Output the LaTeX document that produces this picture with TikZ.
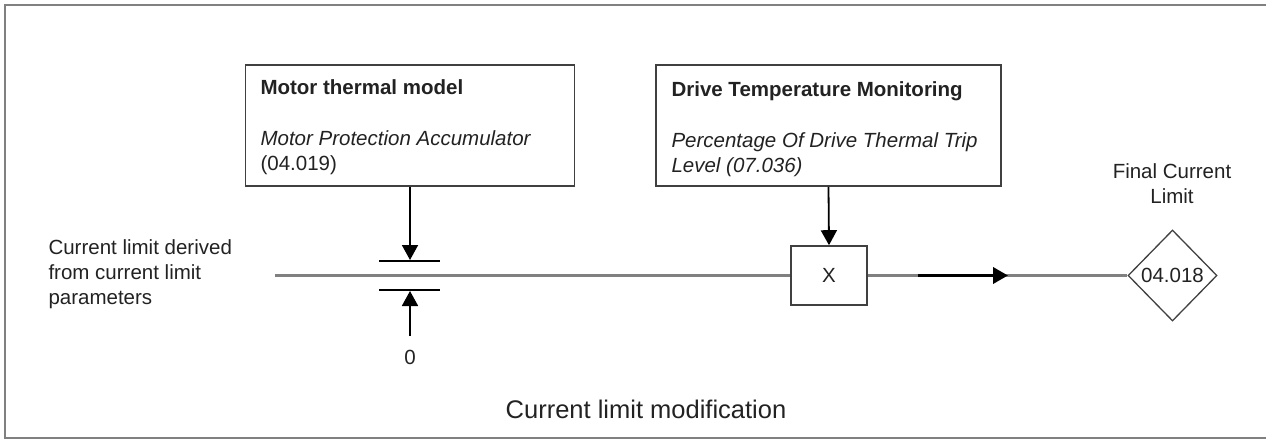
\documentclass[tikz,border=0pt]{standalone}
\usepackage{fontspec}
\setmainfont{Liberation Sans}
\usetikzlibrary{positioning}
\usetikzlibrary{shapes.geometric}
\usetikzlibrary{arrows.meta}

\definecolor{framegray}{HTML}{808080}
\definecolor{boxgray}{HTML}{404040}
\definecolor{txtgray}{HTML}{222222}

\begin{document}
\begin{tikzpicture}[x=1pt, y=-1pt,
    every node/.style={font=\fontsize{20.5}{25}\selectfont, text=txtgray},
    blockbox/.style={draw=boxgray, line width=1.8pt, minimum width=329pt, minimum height=121pt, inner sep=0pt},
    mulbox/.style={draw=boxgray, line width=1.6pt, minimum width=76pt, minimum height=59pt, inner sep=0pt},
    parambox/.style={draw=boxgray, line width=1.3pt, shape=diamond, minimum width=89pt, minimum height=91pt, inner sep=0pt},
    sig/.style={draw=framegray, line width=2.6pt},
    feed/.style={draw=black, line width=1.8pt, -{Triangle[length=15pt,width=16pt]}},
    clampbar/.style={draw=black, line width=1.6pt}]
            \useasboundingbox (0,0) rectangle (1266,441);
            \draw[framegray, line width=2.6pt] (1266,5) -- (5,5) -- (5,438) -- (1266,438);

            % feedback blocks
            \node[blockbox] (mtm) at (410,125.5) {};
            \node[anchor=north west, align=left] (mtmtxt) at (257,76) {\textbf{Motor thermal model}\\[26pt]\textit{Motor Protection Accumulator}\\(04.019)};
            \node[blockbox, minimum width=345pt] (dtm) at (828.5,125.5) {};
            \node[anchor=north west, align=left] (dtmtxt) at (668,78) {\textbf{Drive Temperature Monitoring}\\[26pt]\textit{Percentage Of Drive Thermal Trip}\\\textit{Level (07.036)}};

            % signal path
            \node[anchor=west, align=left] (clin) at (45,274) {Current limit derived\\from current limit\\parameters};
            \coordinate (clstart) at (275,275.5);
            \coordinate (clamphi) at (410,261);
            \coordinate (clamplo) at (410,290);
            \node (zero) at (410,357) {0};
            \node[mulbox] (mul) at (829,275.5) {X};
            \node[parambox] (fcl) at (1172.5,275.5) {04.018};
            \node[align=center] (fcltxt) at (1172,184) {Final Current\\Limit};

            \draw[sig] (clstart) -- (mul.west);
            \draw[sig] (mul.east) -- (fcl.west);
            \draw[feed, line width=3.6pt] (918,275.5) -- (1008,275.5);

            \draw[clampbar] ([xshift=-31pt]clamphi) -- ([xshift=30pt]clamphi);
            \draw[clampbar] ([xshift=-31pt]clamplo) -- ([xshift=30pt]clamplo);
            \draw[feed] (mtm.south) -- ([yshift=1pt]clamphi);
            \draw[feed] ([yshift=10pt]zero.north) -- ([yshift=-1pt]clamplo);
            \draw[feed] (dtm.south) -- (mul.north);

            \node (title) at (646,409) {\fontsize{25.5}{30}\selectfont Current limit modification};
\end{tikzpicture}
\end{document}
